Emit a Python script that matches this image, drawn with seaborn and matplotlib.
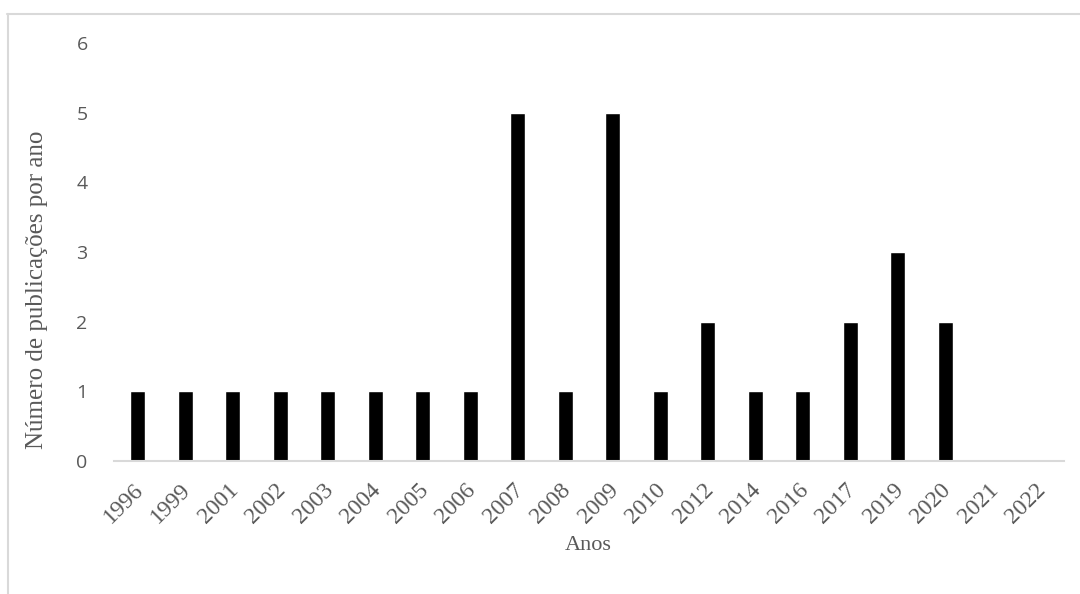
import matplotlib
matplotlib.use("Agg")
import matplotlib.pyplot as plt
import matplotlib.transforms as mtransforms
import seaborn as sns
import pandas as pd
from matplotlib.lines import Line2D

# Data
anos = ["1996", "1999", "2001", "2002", "2003", "2004", "2005", "2006", "2007", "2008",
        "2009", "2010", "2012", "2014", "2016", "2017", "2019", "2020", "2021", "2022"]
publicacoes = [1, 1, 1, 1, 1, 1, 1, 1, 5, 1, 5, 1, 2, 1, 1, 2, 3, 2, 0, 0]

df = pd.DataFrame({"Anos": anos, "Publicacoes": publicacoes})

sns.set_style("white")
plt.rcParams['font.family'] = ['Liberation Serif', 'DejaVu Serif']

fig = plt.figure(figsize=(10.8, 5.94), dpi=100)
ax = fig.add_axes([0.1056, 0.224, 0.8796, 0.7036])

sns.barplot(data=df, x="Anos", y="Publicacoes", color="black", width=0.31,
            saturation=1, ax=ax)

ax.set_ylim(0, 6)
ax.set_xlim(-0.5, len(anos) - 0.5)
ax.set_yticks(range(0, 7))
ax.set_yticklabels([str(i) for i in range(0, 7)], family="Open Sans",
                   fontsize=14, color="#595959")
ax.set_xticks(range(len(anos)))
ax.set_xticklabels(anos, rotation=45, ha="right", rotation_mode="anchor",
                   fontsize=17, color="#595959")
ax.tick_params(axis="both", length=0)
ax.tick_params(axis="y", pad=19)
ax.tick_params(axis="x", pad=13)

# nudge the rotated year labels a little to the left
shift = mtransforms.ScaledTranslation(-5 / 100, 0, fig.dpi_scale_trans)
for lbl in ax.get_xticklabels():
    lbl.set_transform(lbl.get_transform() + shift)

for s in ["top", "right", "left"]:
    ax.spines[s].set_visible(False)
ax.spines["bottom"].set_color("#d9d9d9")
ax.spines["bottom"].set_linewidth(1.5)

ax.set_xlabel("")
ax.set_ylabel("")
fig.text(0.5444, 0.082, "Anos", ha="center", va="center", fontsize=16, color="#595959")
fig.text(0.034, 0.512, "Número de publicações por ano", ha="center", va="center",
         rotation=90, fontsize=18, color="#595959")

# chart area border (top and left)
fig.add_artist(Line2D([7 / 1080, 1], [1 - 13.5 / 594, 1 - 13.5 / 594],
                      color="#d9d9d9", lw=1.5, transform=fig.transFigure))
fig.add_artist(Line2D([7.5 / 1080, 7.5 / 1080], [0, 1 - 13.5 / 594],
                      color="#d9d9d9", lw=1.5, transform=fig.transFigure))

fig.savefig("out.png", dpi=100)
